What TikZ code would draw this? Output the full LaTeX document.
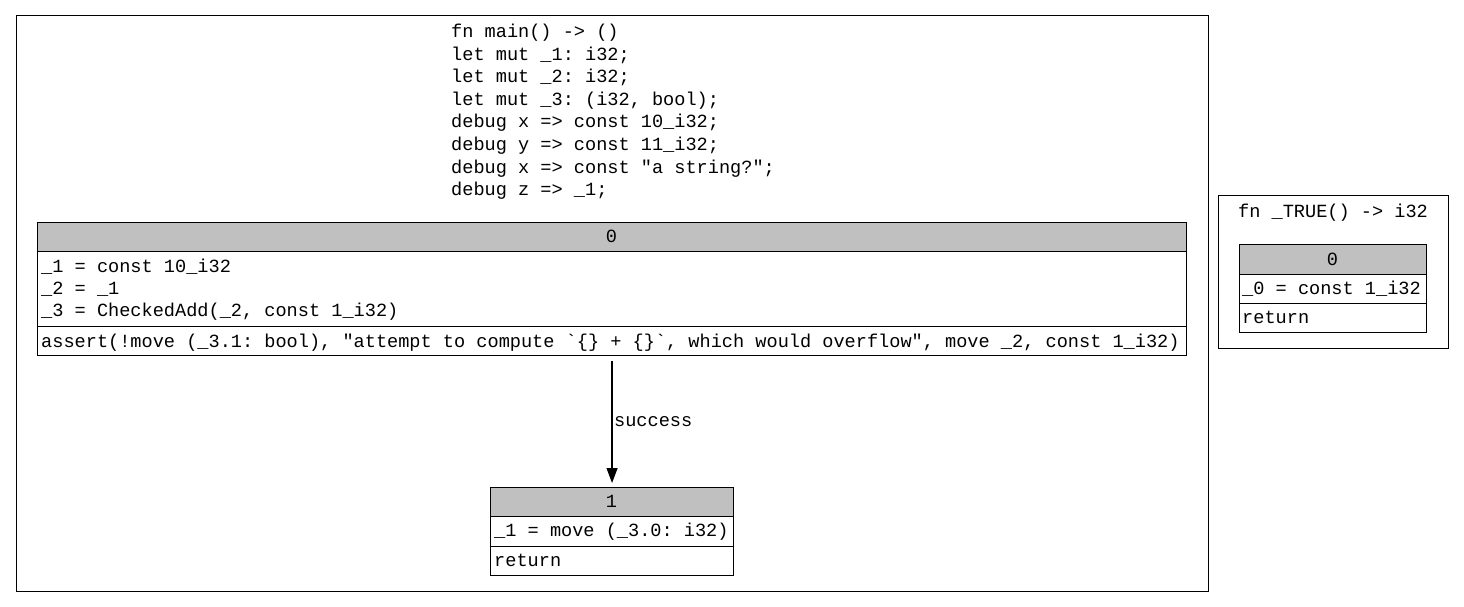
\documentclass[tikz,border=0pt]{standalone}
\usepackage{fontspec}
\setmonofont{Liberation Mono}
\usetikzlibrary{arrows.meta}
\definecolor{hdrgray}{HTML}{C0C0C0}
\begin{document}
\begin{tikzpicture}[x=1pt,y=-1pt,
  code/.style={font=\ttfamily\fontsize{18.6}{22.3}\selectfont, inner sep=0pt, text=black},
  lcode/.style={code, anchor=base west},
  ccode/.style={code, anchor=base},
  frame/.style={draw=black, line width=1.1pt, inner sep=0pt, anchor=north west},
  cell/.style={frame, fill=white},
  hdr/.style={frame, fill=hdrgray},
  flow/.style={-{Triangle[length=15pt,width=11pt]}, line width=1.2pt, shorten <=5pt, shorten >=4pt}]
\useasboundingbox (0,0) rectangle (1464,607);

% cluster of fn main
\node[frame, minimum width=1192pt, minimum height=576pt] (mainfn) at (16,15) {};
\node[lcode] (m1) at (451,37.5)  {fn main() -> ()};
\node[lcode] (m2) at (451,60.1)  {let mut \_1: i32;};
\node[lcode] (m3) at (451,82.7)  {let mut \_2: i32;};
\node[lcode] (m4) at (451,105.3) {let mut \_3: (i32, bool);};
\node[lcode] (m5) at (451,127.9) {debug x => const 10\_i32;};
\node[lcode] (m6) at (451,150.5) {debug y => const 11\_i32;};
\node[lcode] (m7) at (451,173.1) {debug x => const "a string?";};
\node[lcode] (m8) at (451,195.7) {debug z => \_1;};

% basic block 0
\node[hdr,  minimum width=1149pt, minimum height=29pt] (b0h) at (37,222) {};
\node[cell, minimum width=1149pt, minimum height=75pt] (b0s) at (37,251) {};
\node[cell, minimum width=1149pt, minimum height=29pt] (b0t) at (37,326) {};
\node[ccode] (b0n) at (611.5,242.5) {0};
\node[lcode] (b0a) at (41,272) {\_1 = const 10\_i32};
\node[lcode] (b0b) at (41,294.3) {\_2 = \_1};
\node[lcode] (b0c) at (41,316.6) {\_3 = CheckedAdd(\_2, const 1\_i32)};
\node[lcode] (b0x) at (41,347.3) {assert(!move (\_3.1: bool), "attempt to compute \char96\{\} + \{\}\char96, which would overflow", move \_2, const 1\_i32)};

% basic block 1
\node[hdr,  minimum width=243pt, minimum height=29pt] (b1h) at (490,487) {};
\node[cell, minimum width=243pt, minimum height=30pt] (b1s) at (490,516) {};
\node[cell, minimum width=243pt, minimum height=29pt] (b1t) at (490,546) {};
\node[ccode] (b1n) at (611.5,507.5) {1};
\node[lcode] (b1a) at (494,536.5) {\_1 = move (\_3.0: i32)};
\node[lcode] (b1x) at (494,566) {return};

% edge between the blocks
\draw[flow] (b0t.south) -- node[code, midway, anchor=west, xshift=1.5pt] (lbl) {success} (b1h.north);

% cluster of fn _TRUE
\node[frame, minimum width=230pt, minimum height=153pt] (truefn) at (1218,195) {};
\node[ccode] (t1) at (1333,217.5) {fn \_TRUE() -> i32};
\node[hdr,  minimum width=187pt, minimum height=30pt] (t0h) at (1239,244) {};
\node[cell, minimum width=187pt, minimum height=29pt] (t0s) at (1239,274) {};
\node[cell, minimum width=187pt, minimum height=29pt] (t0t) at (1239,303) {};
\node[ccode] (t0n) at (1332.5,265) {0};
\node[lcode] (t0a) at (1242,294) {\_0 = const 1\_i32};
\node[lcode] (t0x) at (1242,323) {return};
\end{tikzpicture}
\end{document}
